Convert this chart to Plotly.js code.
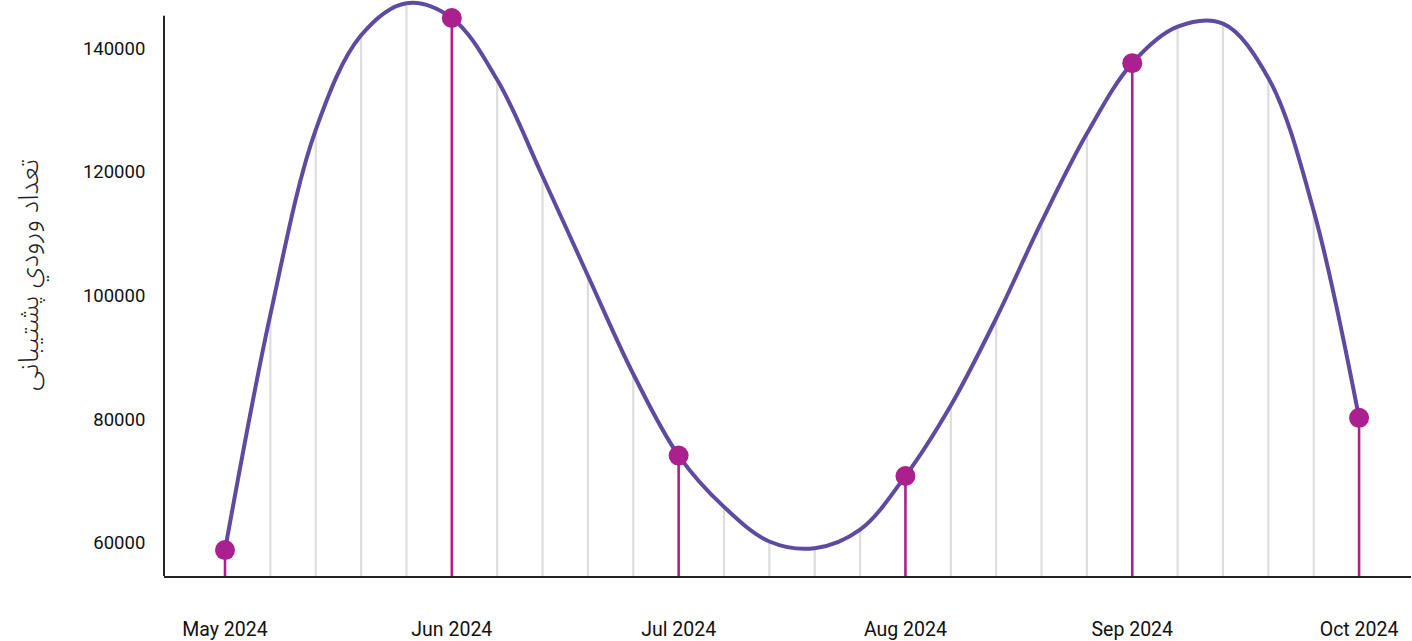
<!DOCTYPE html>
<html>
<head>
<meta charset="utf-8">
<script src="https://cdn.plot.ly/plotly-3.0.1.min.js"></script>
<style>
  html, body { margin: 0; padding: 0; background: #ffffff; }
  #chart { width: 1412px; height: 641px; }
</style>
</head>
<body>
<div id="chart"></div>
<script>
// Month tick labels
const months = ['May 2024', 'Jun 2024', 'Jul 2024', 'Aug 2024', 'Sep 2024', 'Oct 2024'];
// Readings are taken 5 times per month; every 5th reading falls on a month start
const stepsPerMonth = 5;
// Support-ticket counts at each reading
const readings = [
  58800, 96900, 126800, 142100, 147300,
  144900, 134900, 119300, 103200, 87300,
  74100, 65800, 60200, 59100, 62100,
  70800, 82200, 96300, 111900, 126200,
  137600, 143500, 144000, 135200, 113700,
  80200
];
// Y axis ticks
const yTicks = [60000, 80000, 100000, 120000, 140000];
const yTitle = 'تعداد ورودي پشتيبانی';

const yRange = [54612, 147816];
const base = yRange[0];

const xs = readings.map((_, i) => i / stepsPerMonth);

// grey drop lines for in-between readings
const gx = [], gy = [];
readings.forEach((v, i) => {
  if (i % stepsPerMonth !== 0) {
    gx.push(xs[i], xs[i], null);
    gy.push(base, v, null);
  }
});

// magenta stems for month readings
const mx = [], my = [], sx = [], sy = [];
readings.forEach((v, i) => {
  if (i % stepsPerMonth === 0) {
    mx.push(xs[i]); my.push(v);
    sx.push(xs[i], xs[i], null);
    sy.push(base, v, null);
  }
});

const magenta = '#ab208f';
const purple = '#5e4aa0';

const traces = [
  { type: 'scatter', mode: 'lines', x: gx, y: gy, hoverinfo: 'skip',
    line: { color: '#dddddd', width: 2.2 }, showlegend: false },
  { type: 'scatter', mode: 'lines', x: sx, y: sy, hoverinfo: 'skip',
    line: { color: magenta, width: 2.6 }, showlegend: false },
  { type: 'scatter', mode: 'lines', x: xs, y: readings,
    line: { color: purple, width: 4, shape: 'spline', smoothing: 1 }, showlegend: false },
  { type: 'scatter', mode: 'markers', x: mx, y: my, cliponaxis: false,
    marker: { color: magenta, size: 20 }, showlegend: false }
];

const layout = {
  width: 1412, height: 641,
  margin: { l: 164, r: 1, t: 0, b: 65, pad: 0 },
  paper_bgcolor: '#ffffff', plot_bgcolor: '#ffffff',
  font: { family: 'Roboto, sans-serif', size: 18, color: '#111111' },
  showlegend: false,
  xaxis: {
    range: [-0.269, 5.229], tickvals: months.map((_, i) => i), ticktext: months,
    showgrid: false, zeroline: false, showline: true, linecolor: '#222222', linewidth: 2,
    ticks: 'outside', ticklen: 35, tickcolor: 'rgba(0,0,0,0)',
    tickfont: { family: 'Roboto, sans-serif', size: 19.5, color: '#111111' }
  },
  yaxis: {
    range: yRange, tickvals: yTicks, tickformat: 'd',
    showgrid: false, zeroline: false, showline: false,
    ticks: 'outside', ticklen: 14, tickcolor: 'rgba(0,0,0,0)',
    tickfont: { family: 'Roboto, sans-serif', size: 18.5, color: '#111111' },
    title: { text: '' }
  },
  annotations: [
    { text: yTitle, xref: 'paper', yref: 'paper', x: -0.1083, y: 0.5226,
      xanchor: 'center', yanchor: 'middle', textangle: -90, showarrow: false, borderpad: 0,
      font: { family: 'Noto Sans Arabic, Noto Naskh Arabic, DejaVu Sans, sans-serif', size: 27.5, color: '#222222', weight: 300 } }
  ],
  shapes: [
    { type: 'line', xref: 'paper', yref: 'paper', x0: 0, x1: 0, y0: 0, y1: 0.9727,
      line: { color: '#222222', width: 2 }, layer: 'above' }
  ]
};

Plotly.newPlot('chart', traces, layout, { displayModeBar: false, staticPlot: true });
</script>
</body>
</html>
